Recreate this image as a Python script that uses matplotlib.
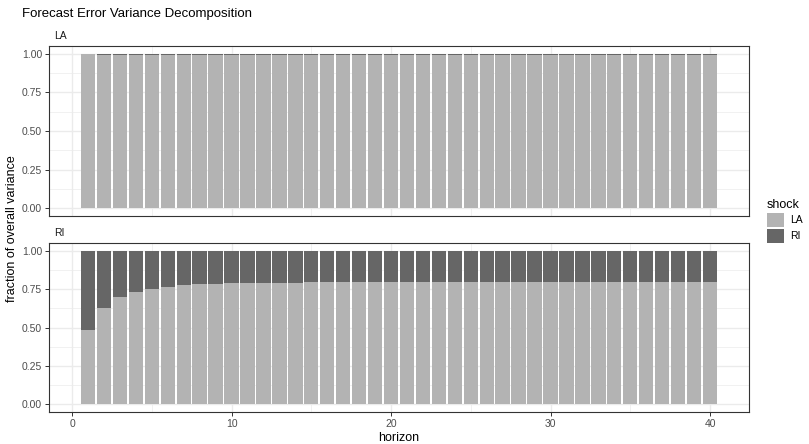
import matplotlib
matplotlib.use("Agg")
import matplotlib.pyplot as plt
from matplotlib.patches import Patch

plt.rcParams['font.family'] = ['Liberation Sans', 'DejaVu Sans']

horizon = list(range(1, 41))

# share of LA's forecast error variance due to each shock
la_on_la = [1.000] + [0.994] * 39
ri_on_la = [0.000] + [0.006] * 39

# share of RI's forecast error variance due to each shock
la_on_ri = [0.486, 0.629, 0.700, 0.732, 0.752, 0.765, 0.778, 0.784, 0.784, 0.791,
            0.791, 0.791, 0.791, 0.791, 0.795, 0.797, 0.797, 0.797, 0.797, 0.797,
            0.797, 0.797, 0.797, 0.797, 0.797, 0.797, 0.797, 0.797, 0.797, 0.797,
            0.797, 0.797, 0.797, 0.797, 0.797, 0.797, 0.797, 0.797, 0.797, 0.797]
ri_on_ri = [1 - v for v in la_on_ri]

panels = [('LA', la_on_la, ri_on_la), ('RI', la_on_ri, ri_on_ri)]
shocks = ['LA', 'RI']
fills = {'LA': '#B3B3B3', 'RI': '#666666'}

W, H = 809, 444
fig = plt.figure(figsize=(W / 100, H / 100), dpi=100)


def px_axes(left, top, right, bottom):
    return fig.add_axes([left / W, 1 - bottom / H, (right - left) / W, (bottom - top) / H])


boxes = [(49, 46, 749, 216), (49, 243, 749, 412)]
grid_major = '#EBEBEB'

for i, ((name, la, ri), box) in enumerate(zip(panels, boxes)):
    ax = px_axes(*box)
    ax.bar(horizon, la, width=0.9, color=fills['LA'], linewidth=0, zorder=3)
    ax.bar(horizon, ri, width=0.9, bottom=la, color=fills['RI'], linewidth=0, zorder=3)
    ax.set_xlim(-1.445, 42.445)
    ax.set_ylim(-0.05, 1.05)
    ax.set_xticks([0, 10, 20, 30, 40])
    ax.set_xticks([5, 15, 25, 35], minor=True)
    ax.set_yticks([0, 0.25, 0.5, 0.75, 1.0])
    ax.set_yticklabels(['0.00', '0.25', '0.50', '0.75', '1.00'])
    ax.set_yticks([0.125, 0.375, 0.625, 0.875], minor=True)
    ax.grid(which='major', color=grid_major, linewidth=1.0, zorder=0)
    ax.grid(which='minor', color=grid_major, linewidth=0.5, zorder=0)
    ax.set_axisbelow(True)
    for s in ax.spines.values():
        s.set_color('#333333')
        s.set_linewidth(0.8)
    ax.tick_params(which='major', length=3, width=0.7, color='#333333',
                   labelsize=7.5, labelcolor='#4D4D4D', pad=2)
    ax.tick_params(which='minor', length=0)
    if i == 0:
        ax.tick_params(axis='x', which='both', bottom=False, labelbottom=False)
    else:
        ax.set_xlabel('horizon', fontsize=9, labelpad=2)
    ax.text(0.008, 1.03, name, transform=ax.transAxes, fontsize=7.5,
            color='#1A1A1A', ha='left', va='bottom')

fig.text(12 / W, 1 - 229 / H, 'fraction of overall variance', rotation=90,
         fontsize=9, ha='center', va='center')
fig.text(22 / W, 1 - 14 / H, 'Forecast Error Variance Decomposition',
         fontsize=9.5, ha='left', va='center')

handles = [Patch(facecolor=fills[s], edgecolor='none', label=s) for s in shocks]
leg = fig.legend(handles=handles, title='shock', loc='upper left',
                 bbox_to_anchor=(767 / W, 1 - 199 / H), frameon=False,
                 fontsize=7.5, title_fontsize=9, handlelength=1.65,
                 handleheight=1.65, handletextpad=0.6, labelspacing=0.2,
                 borderaxespad=0, borderpad=0)
leg._legend_box.align = 'left'

fig.savefig('out.png', dpi=100)
